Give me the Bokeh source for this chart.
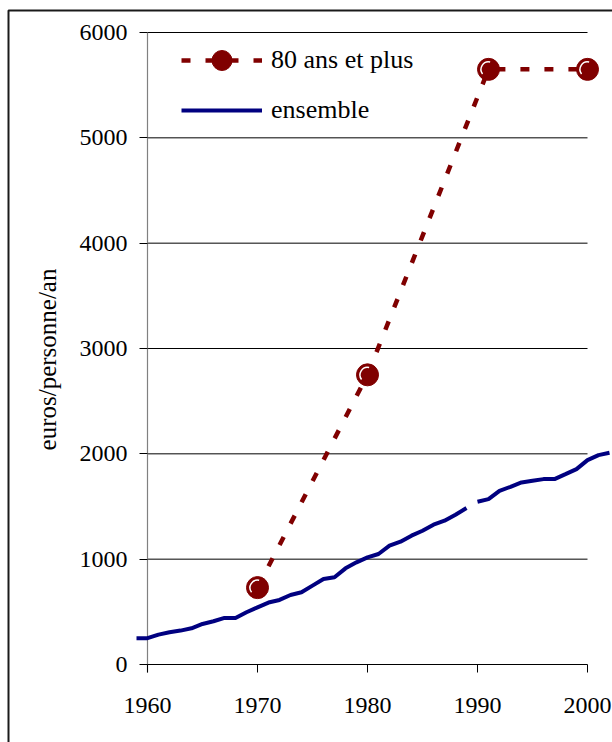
from bokeh.plotting import figure
from bokeh.models import Range1d, LinearAxis, FixedTicker, Legend, LegendItem
from bokeh.embed import file_html
from bokeh.resources import INLINE

# --- data -------------------------------------------------------------
annees = list(range(1959, 2003))
ensemble = [250, 250, 284, 306, 322, 344, 385, 411, 442, 442,
            496, 543, 588, 613, 660, 686, 749, 812, 828, 913,
            970, 1017, 1049, 1128, 1166, 1223, 1270, 1327, 1365, 1422,
            1485, 1545, 1570, 1649, 1687, 1728, 1744, 1760, 1760, 1807,
            1855, 1940, 1988, 2010]
rupture = 1989  # series is interrupted between 1989 and 1990

annees_80 = [1970, 1980, 1991, 2000]
depense_80 = [730, 2750, 5650, 5650]

x_ticks = [1960, 1970, 1980, 1990, 2000]
y_ticks = [0, 1000, 2000, 3000, 4000, 5000, 6000]

# --- geometry ---------------------------------------------------------
W, H = 612, 742
PX_YEAR = 11.0            # pixels per year
PX_UNIT = 632 / 6000.0    # pixels per euro
X0_PX, Y0_PX = 147, 664   # canvas position of (1960, 0)
TICK_PX = 8


def px_to_x(px):
    return x_ticks[0] + (px - X0_PX) / PX_YEAR


def py_to_y(py):
    return y_ticks[0] + (Y0_PX - py) / PX_UNIT


# the plotting frame covers the whole canvas; axes sit inside it
x_range = Range1d(px_to_x(0), px_to_x(W))
y_range = Range1d(py_to_y(H), py_to_y(0))

FONT = "Times"
RED = "#800000"
BLUE = "#000080"

p = figure(width=W, height=H, x_range=x_range, y_range=y_range,
           x_axis_type=None, y_axis_type=None, toolbar_location=None,
           output_backend="svg", min_border=0)
p.outline_line_color = None
p.background_fill_color = "white"
p.border_fill_color = "white"
p.xgrid.visible = False
p.ygrid.visible = False

# outer frame of the figure (left and top edges)
p.line([px_to_x(8), px_to_x(8), px_to_x(W + 20)],
       [py_to_y(H + 20), py_to_y(10), py_to_y(10)],
       line_color="#1a1a1a", line_width=2)

# horizontal grid lines limited to the axis span
grid_y = y_ticks[1:]
p.segment(x0=[x_ticks[0]] * len(grid_y), x1=[x_ticks[-1]] * len(grid_y),
          y0=grid_y, y1=grid_y, line_color="black", line_width=1)

# grey vertical axis line, running a tick length below zero
p.segment(x0=[x_ticks[0]], x1=[x_ticks[0]],
          y0=[y_ticks[0] - TICK_PX / PX_UNIT], y1=[y_ticks[-1]],
          line_color="#808080", line_width=1.2)

# axes crossing at (1960, 0)
yaxis = LinearAxis(fixed_location=x_ticks[0], ticker=FixedTicker(ticks=y_ticks),
                   bounds=(py_to_y(686), y_ticks[-1]))
yaxis.axis_label = "euros/personne/an"
yaxis.axis_label_text_font = FONT
yaxis.axis_label_text_font_size = "25px"
yaxis.axis_label_text_font_style = "normal"
yaxis.axis_label_text_color = "black"
yaxis.axis_label_standoff = 16
yaxis.axis_line_color = None
yaxis.major_tick_line_color = "black"
yaxis.major_tick_out = TICK_PX
yaxis.major_tick_in = 0
yaxis.minor_tick_line_color = None
yaxis.major_label_text_font = FONT
yaxis.major_label_text_font_size = "24px"
yaxis.major_label_text_color = "black"
yaxis.major_label_standoff = 12
p.add_layout(yaxis, "left")

xaxis = LinearAxis(fixed_location=y_ticks[0], ticker=FixedTicker(ticks=x_ticks),
                   bounds=(x_ticks[0], x_ticks[-1]))
xaxis.axis_line_color = "black"
xaxis.major_tick_line_color = "black"
xaxis.major_tick_out = TICK_PX
xaxis.major_tick_in = 0
xaxis.minor_tick_line_color = None
xaxis.major_label_text_font = FONT
xaxis.major_label_text_font_size = "24px"
xaxis.major_label_text_color = "black"
xaxis.major_label_standoff = 25
p.add_layout(xaxis, "below")

# "ensemble" series, drawn in two parts around the break
a_x = [a for a in annees if a <= rupture]
a_y = [v for a, v in zip(annees, ensemble) if a <= rupture]
b_x = [a for a in annees if a > rupture]
b_y = [v for a, v in zip(annees, ensemble) if a > rupture]
ens_a = p.line(a_x, a_y, line_color=BLUE, line_width=4)
p.line(b_x, b_y, line_color=BLUE, line_width=4)

# "80 ans et plus" series
l80 = p.line(annees_80, depense_80, line_color=RED, line_width=4.5,
             line_dash="9 15")
s80 = p.scatter(annees_80, depense_80, marker="circle", size=22,
                fill_color=RED, line_color=RED)
p.arc(annees_80, depense_80, radius=7.5, radius_units="screen",
      start_angle=1.35, end_angle=3.8, line_color="white", line_width=1.5)

legend = Legend(items=[LegendItem(label="80 ans et plus", renderers=[l80, s80]),
                       LegendItem(label="ensemble", renderers=[ens_a])],
                location=(181, H - 135))
legend.glyph_width = 81
legend.glyph_height = 50
legend.spacing = -5
legend.padding = 0
legend.margin = 0
legend.label_standoff = 9
legend.label_text_font = FONT
legend.label_text_font_size = "26px"
legend.label_text_color = "black"
legend.border_line_color = None
legend.background_fill_alpha = 0
p.add_layout(legend)

open("out.html", "w").write(file_html(p, INLINE))
